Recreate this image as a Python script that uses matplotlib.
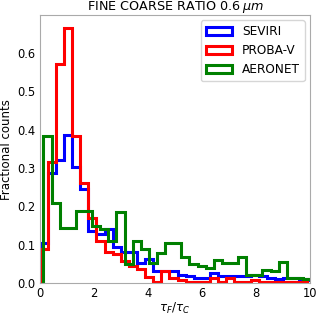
import numpy as np
import matplotlib
matplotlib.use('Agg')
import matplotlib.pyplot as plt

# bin edges (width 0.3), green series is offset
edges = np.round(np.arange(0, 10.21, 0.3), 2)
green_edges = np.round(np.arange(0.14, 10.1, 0.3), 2)

seviri = [0.104, 0.287, 0.32, 0.385, 0.303, 0.245, 0.136, 0.127, 0.14, 0.095,
          0.081, 0.081, 0.052, 0.062, 0.032, 0.032, 0.032, 0.022, 0.02, 0.014,
          0.014, 0.027, 0.018, 0.018, 0.018, 0.018, 0.022, 0.02, 0.015, 0.012,
          0.013, 0.013, 0.012, 0.008]
probav = [0.088, 0.316, 0.57, 0.665, 0.383, 0.26, 0.17, 0.11, 0.081, 0.076,
          0.057, 0.045, 0.037, 0.017, 0.004, 0.032, 0.013, 0.009, 0.004, 0.004,
          0.004, 0.015, 0.004, 0.015, 0.004, 0.004, 0.008, 0.004, 0.004, 0.004,
          0.004, 0.004, 0.004, 0.012]
aeronet = [0.383, 0.209, 0.143, 0.143, 0.189, 0.189, 0.15, 0.14, 0.11, 0.185,
           0.049, 0.11, 0.09, 0.054, 0.078, 0.104, 0.104, 0.069, 0.049, 0.045,
           0.039, 0.06, 0.054, 0.054, 0.069, 0.021, 0.021, 0.035, 0.031, 0.055,
           0.015, 0.015, 0.01]

fig = plt.figure(figsize=(3.2, 3.15), dpi=100)
ax = fig.add_axes([0.124, 0.1006, 0.845, 0.852])

ax.hist(edges[:-1], bins=edges, weights=seviri, histtype='step', lw=2.2,
        color='blue', label='SEVIRI')
ax.hist(edges[:-1], bins=edges, weights=probav, histtype='step', lw=2.2,
        color='red', label='PROBA-V')
ax.hist(green_edges[:-1], bins=green_edges, weights=aeronet, histtype='step',
        lw=2.2, color='green', label='AERONET')

ax.set_xlim(0, 10)
ax.set_ylim(0, 0.698)
ax.set_xticks([0, 2, 4, 6, 8, 10])
ax.set_yticks([0.0, 0.1, 0.2, 0.3, 0.4, 0.5, 0.6])
ax.tick_params(labelsize=8.3, length=0, pad=3.3)
ax.tick_params(axis='x', pad=2.5)
for s in ax.spines.values():
    s.set_color('#aaaaaa')

ax.set_title(r'FINE COARSE RATIO 0.6$\,\mu m$', fontsize=9.2, pad=2)
ax.set_xlabel(r'$\tau_F/\tau_C$', fontsize=8.6, labelpad=0.5)
ax.set_ylabel('Fractional counts', fontsize=8.5, labelpad=3)
ax.legend(loc='upper right', fontsize=8.7, handlelength=2.2, borderaxespad=0.45)

fig.savefig('out.png', dpi=100)
